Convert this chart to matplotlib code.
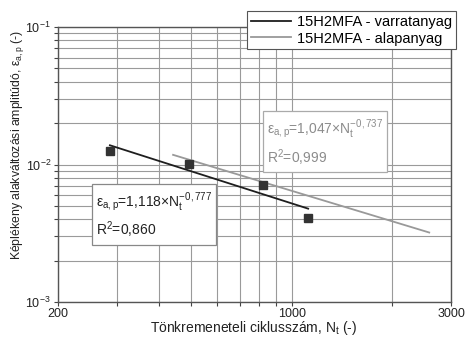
import numpy as np
import matplotlib
matplotlib.use("Agg")
import matplotlib.pyplot as plt
from matplotlib.ticker import FixedLocator, NullFormatter, LogLocator, FixedFormatter

plt.rcParams['font.family'] = ['Liberation Sans', 'DejaVu Sans']
plt.rcParams['mathtext.fontset'] = 'custom'
plt.rcParams['mathtext.rm'] = 'Liberation Sans'
plt.rcParams['mathtext.it'] = 'Liberation Sans'
plt.rcParams['mathtext.default'] = 'regular'

# Measured points (cycles to failure, plastic strain amplitude)
weld_N = [286, 493, 1121]
weld_eps = [0.01254, 0.01006, 0.00408]
base_N = [822]
base_eps = [0.0071]

# Power-law fits: eps = C * N^b
weld_C, weld_b = 1.118, -0.777
base_C, base_b = 1.047, -0.737
weld_range = [286, 1121]
base_range = [442, 2582]

legend_labels = ["15H2MFA - varratanyag", "15H2MFA - alapanyag"]
x_major = [200, 1000, 3000]
x_minor = [300, 400, 500, 600, 700, 800, 900, 2000]

fig = plt.figure(figsize=(4.65, 3.41), dpi=100)
ax = fig.add_axes([58/465, 39/341, 393/465, 275/341])
ax.set_xscale('log')
ax.set_yscale('log')
ax.set_xlim(200, 3000)
ax.set_ylim(1e-3, 1e-1)

grid_c = '#9a9a9a'
ax.xaxis.set_major_locator(FixedLocator(x_major))
ax.xaxis.set_major_formatter(FixedFormatter([str(v) for v in x_major]))
ax.xaxis.set_minor_locator(FixedLocator(x_minor))
ax.xaxis.set_minor_formatter(NullFormatter())
ax.yaxis.set_major_locator(FixedLocator([1e-3, 1e-2, 1e-1]))
ax.yaxis.set_major_formatter(FixedFormatter([r'$10^{-3}$', r'$10^{-2}$', r'$10^{-1}$']))
ax.yaxis.set_minor_locator(LogLocator(base=10, subs=np.arange(2, 10)))
ax.yaxis.set_minor_formatter(NullFormatter())
ax.grid(True, which='both', color=grid_c, linewidth=0.8)
ax.set_axisbelow(True)
ax.tick_params(which='both', direction='out', length=3, width=0.8, color='#444444',
               labelsize=9, labelcolor='#222222', pad=2)
ax.tick_params(axis='x', pad=1)
for s in ax.spines.values():
    s.set_color('#555555')
    s.set_linewidth(1.0)

wN = np.geomspace(*weld_range, 50)
bN = np.geomspace(*base_range, 50)
l1, = ax.plot(wN, weld_C * wN ** weld_b, color='#1e1e1e', lw=1.3)
l2, = ax.plot(bN, base_C * bN ** base_b, color='#999999', lw=1.3)
ax.plot(weld_N, weld_eps, 's', color='#333333', ms=5.5, ls='none')
ax.plot(base_N, base_eps, 's', color='#333333', ms=5.5, ls='none')

fig.text(254/465, 1 - 328/341, r'Tönkremeneteli ciklusszám, N$_t$ (-)', fontsize=10,
         color='#222222', ha='center', va='center')
fig.text(17/465, 1 - 145/341, r'Képlékeny alakváltozási amplitúdó, ε$_{a,p}$ (-)',
         fontsize=8.8, color='#222222', rotation=90, ha='center', va='center')

leg = fig.legend([l1, l2], legend_labels, loc='upper right',
                 bbox_to_anchor=(456/465, 1 - 11/341), fontsize=10.5, frameon=True,
                 fancybox=False, edgecolor='#555555', framealpha=1, borderpad=0.25,
                 handlelength=2.8, handletextpad=0.4, labelspacing=0.2, borderaxespad=0)
leg.get_frame().set_linewidth(0.8)

ax.text(0.532, 0.669, r'ε$_{a,p}$=1,047×N$_t^{-0,737}$' + '\n' + r'R$^2$=0,999',
        transform=ax.transAxes, fontsize=10, color='#8c8c8c', va='top', ha='left',
        linespacing=1.35,
        bbox=dict(boxstyle='square,pad=0.3', fc='white', ec='#aaaaaa', lw=0.9))
ax.text(0.097, 0.404, r'ε$_{a,p}$=1,118×N$_t^{-0,777}$' + '\n' + r'R$^2$=0,860',
        transform=ax.transAxes, fontsize=10, color='#222222', va='top', ha='left',
        linespacing=1.35,
        bbox=dict(boxstyle='square,pad=0.3', fc='white', ec='#888888', lw=0.9))

fig.savefig('out.png', dpi=100)
